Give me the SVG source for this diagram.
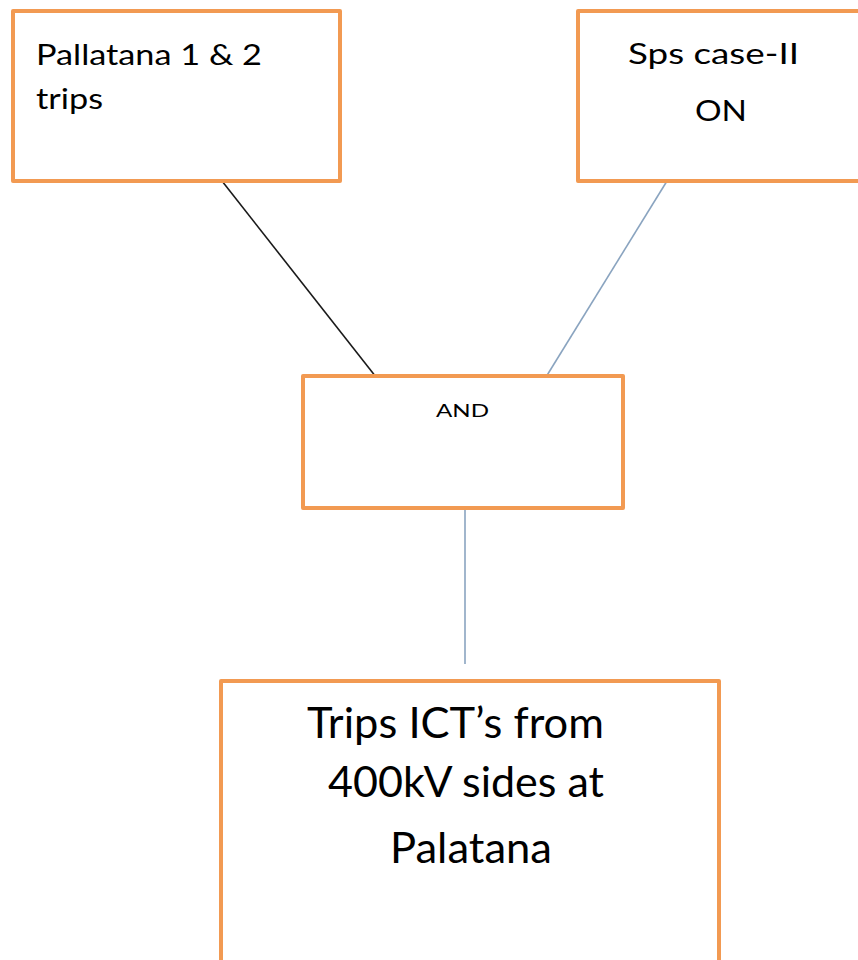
<svg xmlns="http://www.w3.org/2000/svg" width="858" height="960" viewBox="0 0 858 960">
<style>
.box{fill:#ffffff;stroke:#f29a52;stroke-width:4;stroke-linejoin:round}
.t{font-family:Lato,"Open Sans",sans-serif;fill:#000000}
.c{fill:none;stroke-width:1.6}
</style>
<rect width="858" height="960" fill="#ffffff"/>
<g id="connectors">
<line class="c" x1="222" y1="181" x2="376" y2="377" stroke="#1a1a1a"/>
<line class="c" x1="667" y1="181" x2="546" y2="377" stroke="#8aa4c0"/>
<line class="c" x1="465" y1="508" x2="465" y2="664" stroke="#8aa4c0"/>
</g>
<g id="node-pallatana">
<rect class="box" x="13" y="11" width="327" height="170"/>
<text class="t" x="36" y="65" font-size="29" textLength="226" lengthAdjust="spacingAndGlyphs">Pallatana 1 &amp; 2</text>
<text class="t" x="36" y="109" font-size="29" textLength="67" lengthAdjust="spacingAndGlyphs">trips</text>
</g>
<g id="node-sps">
<rect class="box" x="578" y="11" width="290" height="170"/>
<text class="t" x="628" y="64" font-size="29" textLength="171" lengthAdjust="spacingAndGlyphs">Sps case-II</text>
<text class="t" x="695" y="121" font-size="29" textLength="52" lengthAdjust="spacingAndGlyphs">ON</text>
</g>
<g id="node-and">
<rect class="box" x="303" y="376" width="320" height="132"/>
<text class="t" x="436" y="417" font-size="18" textLength="53" lengthAdjust="spacingAndGlyphs">AND</text>
</g>
<g id="node-trips">
<rect class="box" x="221" y="681" width="498" height="300"/>
<text class="t" x="307" y="738" font-size="42" textLength="297" lengthAdjust="spacingAndGlyphs">Trips ICT’s from</text>
<text class="t" x="328" y="797" font-size="42" textLength="276" lengthAdjust="spacingAndGlyphs">400kV sides at</text>
<text class="t" x="390" y="863" font-size="42" textLength="162" lengthAdjust="spacingAndGlyphs">Palatana</text>
</g>
</svg>
